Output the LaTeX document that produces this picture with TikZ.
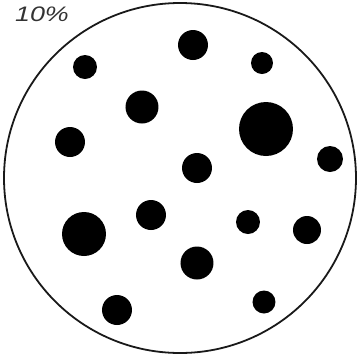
\documentclass[tikz,border=0pt]{standalone}
\usepackage{fontspec}
\setmainfont{Liberation Sans}
\begin{document}
\begin{tikzpicture}[x=1pt,y=-1pt,
  dot/.style={circle,fill=black,inner sep=0pt,minimum size=#1},
  label/.style={font=\fontsize{21}{21}\selectfont\itshape,text=black!80,inner sep=0pt,xscale=1.28}]
\useasboundingbox (0,0) rectangle (357,360);
\draw[line width=1.8pt,black!90] (180,178) circle[x radius=176,y radius=175];
\node[label] (lbl) at (42,14.5) {10\%};
\node[dot=30pt] (d1) at (193,45) {};
\node[dot=24pt] (d2) at (85,67) {};
\node[dot=22pt] (d3) at (262,63) {};
\node[dot=33pt] (d4) at (142,107) {};
\node[dot=54pt] (d5) at (266,129) {};
\node[dot=30pt] (d6) at (70,142) {};
\node[dot=26pt] (d7) at (330,159) {};
\node[dot=30pt] (d8) at (197,168) {};
\node[dot=30pt] (d9) at (151,215) {};
\node[dot=44pt] (d10) at (84,234) {};
\node[dot=24pt] (d11) at (248,222) {};
\node[dot=28pt] (d12) at (307,230) {};
\node[dot=33pt] (d13) at (197,263) {};
\node[dot=30pt] (d14) at (117,310) {};
\node[dot=23pt] (d15) at (264,302) {};
\end{tikzpicture}
\end{document}
